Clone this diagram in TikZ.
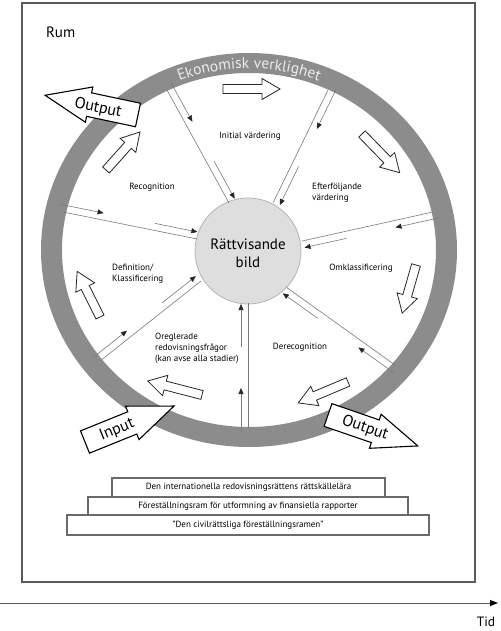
\documentclass[tikz,border=0pt]{standalone}
\usepackage{fontspec}
\setmainfont{PT Sans}
\usetikzlibrary{calc,arrows.meta,decorations.text}
\definecolor{ringgray}{HTML}{8C8C8C}
\definecolor{spokegray}{HTML}{7A7A7A}
\definecolor{framegray}{HTML}{5A5A5A}
\definecolor{circfill}{HTML}{DEDEDE}
\definecolor{circline}{HTML}{B4B4B4}
\definecolor{ekon}{HTML}{EBEBEB}
\definecolor{boxline}{HTML}{6A6A6A}
\newcommand\spoke[2]{%
  \draw[spokeline] (#1) -- (#2);
  \coordinate (s1) at ($(#1)!-4pt!(#2)$);
  \coordinate (s2) at ($(#1)!40pt!(#2)$);
  \draw[spokearrow] ($(s1)!7pt!90:(#2)$) -- ($(s2)!7pt!90:(#2)$);
  \coordinate (s3) at ($(#2)!44pt!(#1)$);
  \coordinate (s4) at ($(#2)!1pt!(#1)$);
  \draw[spokearrow] ($(s3)!7pt!-90:(#1)$) -- ($(s4)!7pt!-90:(#1)$);
}
\newcommand\hollowarrow[4]{%
  \draw[hollow, shift={(#1,#2)}, rotate=#3] (0,-4.5) -- (#4-18,-4.5) -- (#4-18,-10.5) -- (#4,0) -- (#4-18,10.5) -- (#4-18,4.5) -- (0,4.5) -- cycle;}
\newcommand\blockarrow[4]{%
  \draw[bigarrow, shift={(#1,#2)}, rotate=#3] (0,-12) -- (#4-45,-12) -- (#4-45,-18) -- (#4,0) -- (#4-45,18) -- (#4-45,12) -- (0,12) -- cycle;}
\begin{document}
\begin{tikzpicture}[x=1pt,y=-1pt,
  seglabel/.style={font=\fontsize{9}{11}\selectfont, text=black, inner sep=0pt},
  spokeline/.style={draw=spokegray, line width=0.6pt},
  spokearrow/.style={draw=spokegray, line width=0.6pt, -{Triangle[length=6pt,width=5pt,color=black!85]}},
  hollow/.style={draw=black!85, fill=white, line width=0.8pt, line join=miter},
  bigarrow/.style={draw=black, fill=white, line width=1.1pt, line join=miter},
  bigtext/.style={font=\fontsize{16}{18}\selectfont, inner sep=0pt},
  stackbox/.style={draw=boxline, fill=white, line width=1.1pt, inner sep=0pt, font=\fontsize{9}{11}\selectfont}
]
\useasboundingbox (0,0) rectangle (500,631);
\fill[white] (0,0) rectangle (500,631);
\draw[framegray, line width=1.1pt] (22,3) rectangle (475,582);
\node[font=\fontsize{15}{18}\selectfont, anchor=west, inner sep=0pt] (rum) at (46,32.5) {Rum};

% ring
\coordinate (R) at (249,250);
\fill[ringgray, even odd rule] (R) ellipse[x radius=208, y radius=197] (R) ellipse[x radius=187, y radius=177];
\path[decorate, decoration={text along path, text align=center, text color=ekon,
  text={|\fontsize{15.5}{18}\selectfont|Ekonomisk verklighet}}]
  ($(R)+(225:192 and 181.5)$) arc[start angle=225, end angle=315, x radius=192, y radius=181.5];

% centre
\node[circle, draw=circline, fill=circfill, minimum size=106pt, line width=0.8pt] (core) at (248,251) {};
\node[align=center, font=\fontsize{15}{18}\selectfont, inner sep=0pt] (coretext) at (248,253) {Rättvisande\\bild};

% spokes
\coordinate (rA) at (167,90);  \coordinate (cA) at (229,203);
\coordinate (rB) at (328,90);  \coordinate (cB) at (273,203);
\coordinate (rC) at (433,212); \coordinate (cC) at (302,241);
\coordinate (rD) at (395,365); \coordinate (cD) at (286,287);
\coordinate (rE) at (248,428); \coordinate (cE) at (248,303);
\coordinate (rF) at (100,361); \coordinate (cF) at (201,281);
\coordinate (rG) at (63,212);  \coordinate (cG) at (197,239);
\spoke{rA}{cA}
\spoke{rB}{cB}
\spoke{rC}{cC}
\spoke{rD}{cD}
\spoke{rE}{cE}
\spoke{rF}{cF}
\spoke{rG}{cG}

% segment labels
\node[seglabel] (initial) at (250,136) {Initial värdering};
\node[seglabel, align=left, anchor=west] (efter) at (312,193) {Efterföljande\\värdering};
\node[seglabel] (omkl) at (361,268) {Omklassificering};
\node[seglabel] (derec) at (300,347) {Derecognition};
\node[seglabel, align=left, anchor=west] (oregl) at (155,348) {Oreglerade\\redovisningsfrågor\\(kan avse alla stadier)};
\node[seglabel, align=left, anchor=west] (defin) at (112,274) {Definition/\\Klassificering};
\node[seglabel] (recog) at (152,187) {Recognition};

% hollow flow arrows
\hollowarrow{223}{89}{0}{57}
\hollowarrow{362}{134}{-45.8}{54}
\hollowarrow{416}{265}{-106}{50}
\hollowarrow{348}{382}{202.8}{54}
\hollowarrow{202}{395}{165.5}{56}
\hollowarrow{100}{317}{116.6}{51}
\hollowarrow{106}{170}{48.2}{51}

% big arrows
\blockarrow{138}{115}{168}{95}
\node[bigtext, rotate=-12] (out1) at (98,108) {Output};
\blockarrow{328}{415}{-19}{95}
\node[bigtext, rotate=-19] (out2) at (365,428) {Output};
\blockarrow{85}{442}{22}{96}
\node[bigtext, rotate=22] (inp) at (117,430) {Input};

% stacked boxes
\node[stackbox, minimum width=273pt, minimum height=19pt] (b1) at (248.5,487.5) {Den internationella redovisningsrättens rättskällelära};
\node[stackbox, minimum width=320pt, minimum height=18pt] (b2) at (248,506) {Föreställningsram för utformning av finansiella rapporter};
\node[stackbox, minimum width=362pt, minimum height=20pt] (b3) at (248,525) {”Den civilrättsliga föreställningsramen”};

% time axis
\coordinate (ax0) at (0,603);
\coordinate (ax1) at (498,603);
\draw[framegray, line width=1pt, -{Triangle[length=8pt,width=6pt,color=black]}] (ax0) -- (ax1);
\node[font=\fontsize{13.5}{16}\selectfont, inner sep=0pt] (tid) at (486,622) {Tid};
\end{tikzpicture}
\end{document}
